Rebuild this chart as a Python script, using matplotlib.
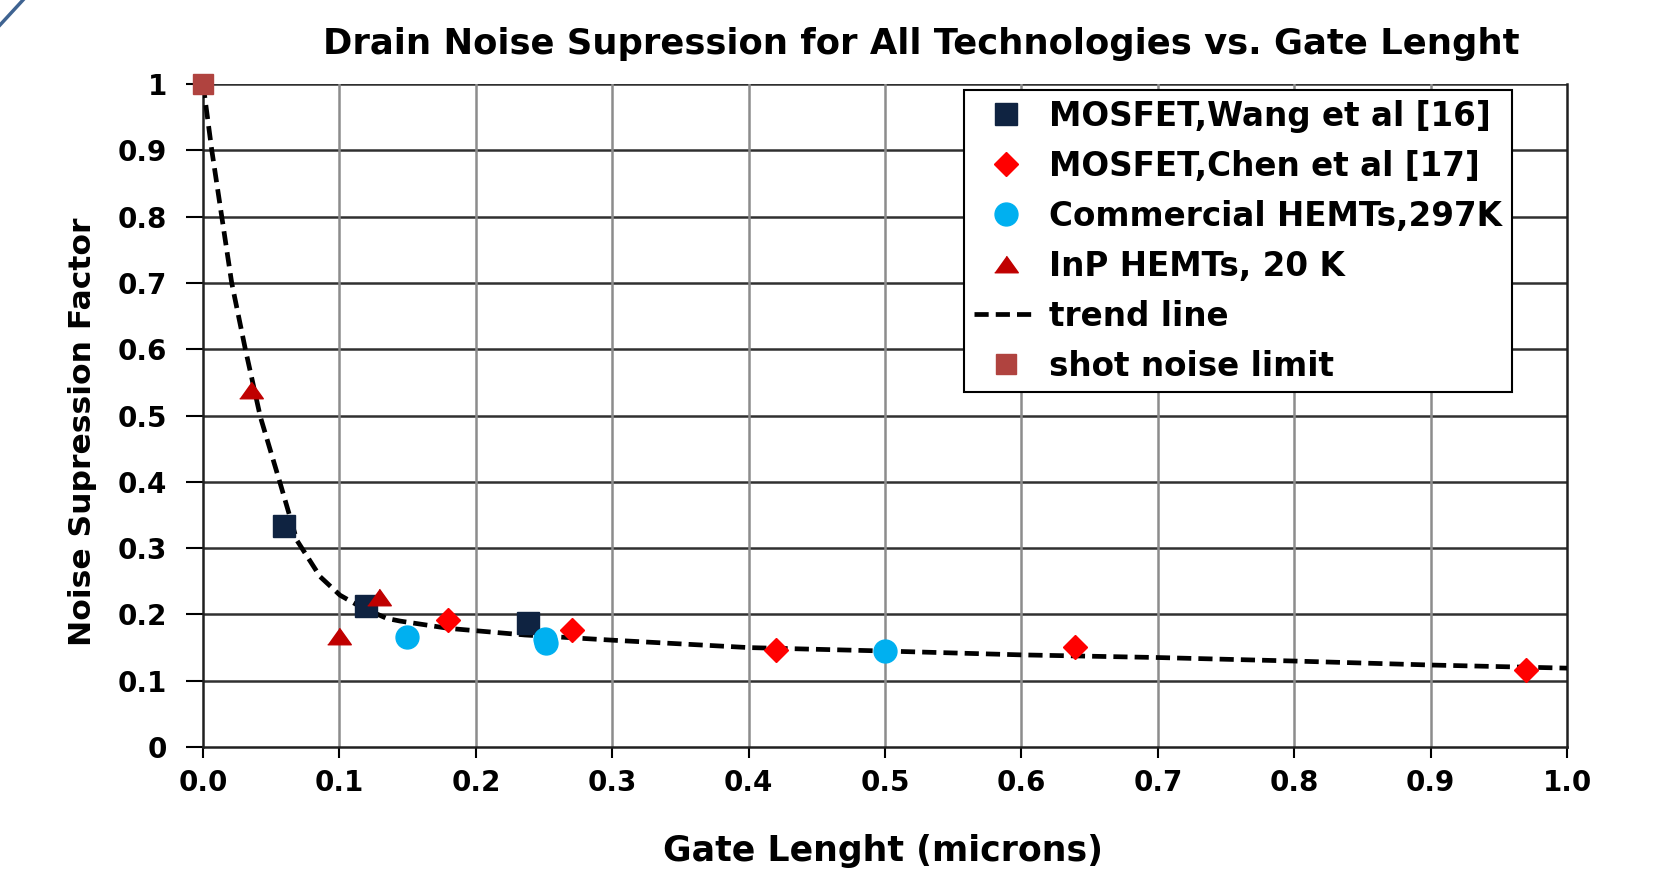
import matplotlib.pyplot as plt
from matplotlib.lines import Line2D

plt.rcParams['font.family'] = ['DejaVu Sans']
plt.rcParams['font.weight'] = 'bold'

# data
wang_x = [0.0596, 0.1193, 0.2385]
wang_y = [0.334, 0.212, 0.187]
chen_x = [0.1795, 0.2704, 0.4203, 0.6396, 0.970]
chen_y = [0.1921, 0.1765, 0.1463, 0.1513, 0.116]
comm_x = [0.1493, 0.2505, 0.2512, 0.5002]
comm_y = [0.1664, 0.1635, 0.1565, 0.1453]
inp_x = [0.0352, 0.0997, 0.1293]
inp_y = [0.538, 0.167, 0.2267]
trend_x = [0.0, 0.0064, 0.0137, 0.021, 0.031, 0.042, 0.0565, 0.0687, 0.0858,
           0.1004, 0.115, 0.1347, 0.1444, 0.18, 0.236, 0.3015, 0.40, 0.50,
           0.60, 0.70, 0.80, 0.90, 1.0]
trend_y = [1.0, 0.9, 0.8, 0.7, 0.6, 0.498, 0.398, 0.312, 0.257,
           0.229, 0.212, 0.194, 0.190, 0.179, 0.169, 0.161, 0.150, 0.1448,
           0.139, 0.135, 0.1297, 0.1237, 0.119]
shot_x = [0.0]
shot_y = [1.0]

x_ticks = [0.0, 0.1, 0.2, 0.3, 0.4, 0.5, 0.6, 0.7, 0.8, 0.9, 1.0]
x_ticklabels = ['0.0', '0.1', '0.2', '0.3', '0.4', '0.5', '0.6', '0.7', '0.8', '0.9', '1.0']
y_ticks = [0, 0.1, 0.2, 0.3, 0.4, 0.5, 0.6, 0.7, 0.8, 0.9, 1.0]
y_ticklabels = ['0', '0.1', '0.2', '0.3', '0.4', '0.5', '0.6', '0.7', '0.8', '0.9', '1']

fig = plt.figure(figsize=(16.59, 8.72), dpi=100)
ax = fig.add_axes([0.1224, 0.1433, 0.8222, 0.7604])

tri = [(-1, -0.7), (1, -0.7), (0, 0.7)]

ax.plot(trend_x, trend_y, color='black', lw=3.4, dashes=(3.0, 1.5),
        label='trend line', zorder=3)
ax.plot(wang_x, wang_y, ls='none', marker='s', ms=16, color='#0F2341',
        label='MOSFET,Wang et al [16]', zorder=4)
ax.plot(chen_x, chen_y, ls='none', marker='D', ms=12, color='#FF0000',
        label='MOSFET,Chen et al [17]', zorder=4)
ax.plot(comm_x, comm_y, ls='none', marker='o', ms=16.5, color='#00B0F0',
        label='Commercial HEMTs,297K', zorder=4)
ax.plot(inp_x, inp_y, ls='none', marker=tri, ms=17, color='#C00000',
        label='InP HEMTs, 20 K', zorder=4)
ax.plot(shot_x, shot_y, ls='none', marker='s', ms=15, color='#B0433F',
        label='shot noise limit', zorder=5, clip_on=False)

ax.set_xlim(0, 1.0)
ax.set_ylim(0, 1.0)
ax.set_xticks(x_ticks)
ax.set_xticklabels(x_ticklabels)
ax.set_yticks(y_ticks)
ax.set_yticklabels(y_ticklabels)
ax.tick_params(axis='x', length=8, width=1.5, pad=8, labelsize=20)
ax.tick_params(axis='y', length=12, width=1.5, pad=14, labelsize=20)

for y in y_ticks[1:]:
    ax.axhline(y, color='#303030', lw=1.8, zorder=1)
for x in x_ticks[1:-1]:
    ax.axvline(x, color='#8C8C8C', lw=1.8, zorder=1)
for s in ['left', 'bottom', 'right']:
    ax.spines[s].set_linewidth(1.8)
    ax.spines[s].set_color('#202020')
ax.spines['top'].set_visible(False)

# legend order as in the reference
h, l = ax.get_legend_handles_labels()
order = [1, 2, 3, 4, 0, 5]
leg = ax.legend([h[i] for i in order], [l[i] for i in order],
                loc='upper left', bbox_to_anchor=(964 / 1659, 1 - 90 / 872),
                bbox_transform=fig.transFigure, fontsize=23.5, frameon=True,
                fancybox=False, edgecolor='black', borderpad=0.3,
                labelspacing=0.52, handlelength=1.95, handletextpad=0.36,
                borderaxespad=0, framealpha=1)
leg.get_frame().set_linewidth(1.5)

fig.text(0.5555, 0.949, 'Drain Noise Supression for All Technologies vs. Gate Lenght',
         ha='center', va='center', fontsize=25.5, fontweight='bold')
fig.text(0.0495, 0.505, 'Noise Supression Factor', rotation=90,
         ha='center', va='center', fontsize=22.6, fontweight='bold')
fig.text(0.532, 0.0244, 'Gate Lenght (microns)',
         ha='center', va='center', fontsize=25, fontweight='bold')

# slide decoration in the top-left corner
fig.add_artist(Line2D([0, 23 / 1659], [1 - 25 / 872, 1.0],
                      transform=fig.transFigure, color='#3F6391', lw=2.5))

fig.savefig('out.png', dpi=100)
